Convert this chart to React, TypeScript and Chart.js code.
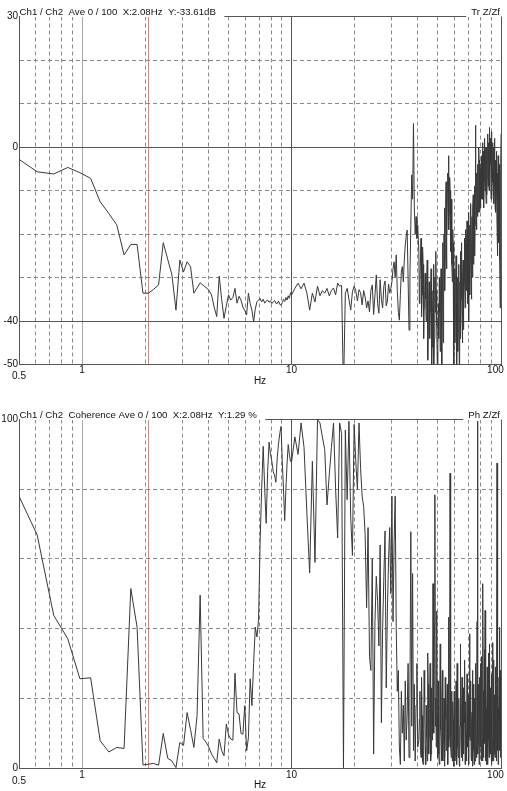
import { useEffect, useRef } from "react";
import { Chart, registerables } from "chart.js";

Chart.register(...registerables);

// ---------- data ----------
// FFT bin spacing (Hz) and segment layout (bin index of first value, bins per value)
const BIN_HZ = 0.12207;
const LOW_FIRST_BIN = 4;
const LOW_STEP = 1;
const MID_FIRST_BIN = 82;
const MID_STEP = 3;
const HIGH_A_FIRST_BIN = 332;
const HIGH_B_FIRST_BIN = 334;
const HIGH_STEP = 4;
const CURSOR_HZ = 2.075;

// Transfer function magnitude (dB)
const trLow = [
  -2.5, -5.7, -6.2, -4.7, -5.9, -7.2, -12.6, -15.3, -17.9, -24.8, -22.4, -22.4, -33.6, -33.6, -32.7, -31.7,
  -22.0, -25.8, -29.4, -37.5, -26.0, -28.7, -26.4, -27.5, -33.6, -32.4,
  -31.2, -31.8, -32.3, -32.9, -34.0, -36.8, -39.0, -29.7, -35.0, -39.4, -36.5, -34.0, -35.2, -34.6, -32.5,
  -35.9, -34.3, -35.2, -36.8, -37.6, -38.6, -33.6, -36.0, -37.5, -40.2, -37.2, -35.6, -35.2, -34.8, -35.6,
  -35.0, -35.9, -35.4, -35.2, -35.7, -35.4, -36.0, -35.6, -35.3, -35.9, -36.0, -35.4, -36.2, -36.3, -35.8,
  -35.0, -35.5, -34.6, -35.2, -34.2, -34.8, -33.5,
];
const trMid = [
  -34.0, -32.5, -31.3, -32.6, -31.3, -33.6, -37.5, -33.6, -35.6, -32.0, -34.2, -33.0, -33.6, -32.5, -34.2,
  -33.0, -32.4, -34.0, -31.3, -32.0, -31.8, -56.0, -33.6, -32.5, -35.0, -37.5, -33.3, -32.0, -33.0, -35.4,
  -32.8, -33.5, -36.3, -33.0, -34.5, -37.0, -35.4, -37.9, -33.0, -31.7, -38.5, -34.0, -29.4, -36.0, -38.2,
  -30.5, -35.0, -37.0, -32.0, -30.8, -36.5, -35.5, -31.5, -33.6, -32.5, -31.0, -28.0, -26.4, -30.0, -24.8,
  -33.0, -38.0, -39.8, -34.0, -28.5, -27.5, -31.0, -26.0, -22.5, -20.5, -19.1, -30.0, -42.1, -30.0, -18.0,
  -6.4, -12.0, 5.4, -14.0, -20.0, -16.0, -21.0, -18.0,
];
const trHighA = [
  -24, -31, -21, -34, -27, -37, -29, -40, -26, -43,
  -31, -38, -28, -46, -33, -50, -30, -24, -41, -55,
  -36, -30, -47, -28, -52, -22, -35, -14, -26, -8,
  -20, -6, -2, -15, -10, -24, -16, -31, -22, -52,
  -28, -38, -25, -56, -30, -42, -27, -48, -24, -35,
  -22, -45, -26, -33, -21, -37, -19, -30, -17, -28,
  -15, -40, -18, -26, -13, -35, -16, -24, -11, -20,
  -9, -18, 5, -14, -6, -16, -4, -12, -3, -15,
  -5, -11, -2, -9, 1, -12, -4, -8, 2, -10,
  -3, -13, 0, -7, 3, -9, 1, -6, 4.5, -4,
  2, -8, 3.5, -5, 1, -11, 0, -6, 2, -14,
  -3, -9, -1, -18, -6, -12, -4, -22, -8, -15,
  -37, -10, 3,
];
const trHighB = [
  -36, -26, -39, -23, -44, -33, -35, -31, -49, -35,
  -44, -33, -52, -38, -27, -44, -38, -33, -47, -40,
  -44, -38, -33, -41, -31, -45, -20, -33, -12, -28,
  -12, -9, -19, -7, -18, -12, -27, -19, -40, -33,
  -45, -31, -50, -36, -47, -33, -52, -31, -44, -28,
  -38, -30, -42, -27, -31, -25, -33, -22, -36, -20,
  -31, -27, -34, -20, -29, -22, -30, -14, -27, -15,
  -25, -8, -9, -19, -11, -7, -15, 0, -10, -8,
  -14, -4, -12, -3, -7, -1, -14, -3, -6, 0,
  -9, -5, -11, 2, -3, -5, -10, 0, -2, 1,
  -12, -2, -7, -3, -8, -5, -13, -2, -9, -6,
  -15, -4, -10, -8, -25, -2, -17, -11, -4, -26,
  -20, -5,
];

// Coherence (%)
const cohLow = [
  79.3, 66.9, 43.8, 37.1, 25.6, 25.9, 7.8, 4.6, 5.9, 5.6, 51.5, 40.4, 0.9, 1.1, 1.3, 0.8,
  9.9, 2.8, 2.0, 0.1, 7.3, 6.5, 15.9, 11.0, 5.9, 15.0,
  49.6, 8.5, 7.4, 6.0, 4.0, 2.8, 1.5, 8.3, 5.0, 3.5, 12.6, 9.5, 8.3, 8.0, 27.2, 15.9, 15.5, 9.9, 9.7,
  17.9, 4.9, 8.7, 25.6, 17.9, 30.0, 40.4, 37.6, 42.4, 65.0, 80.0, 92.3, 80.0, 70.2, 85.0, 93.5, 90.0,
  88.0, 85.0, 84.0, 82.0, 89.0, 93.0, 96.0, 98.0, 88.0, 80.0, 71.0, 80.0, 87.5, 92.8, 90.0, 88.0,
];
const cohMid = [
  88, 95, 90, 99, 92, 73, 56, 88, 59, 100, 99, 95, 91.4, 75.5, 84, 92, 99, 80, 66, 99, 96, 0.1,
  97, 77, 99.5, 72, 61, 98.6, 88, 80, 99, 86, 78, 75, 67, 46, 69, 32, 28, 60, 4, 42, 55, 48, 35,
  64, 13, 40, 55, 68, 23, 45, 60, 69, 50, 78, 42, 65, 78, 40, 22, 28, 6, 1, 22, 10, 18, 2, 25,
  8, 15, 30, 3, 20, 67.8, 12, 55.8, 5, 24, 2, 18, 30, 6,
];
const cohHighA = [
  8, 22, 3, 15, 1, 28, 6, 18, 2, 24,
  9, 30, 4, 16, 52.9, 10, 78.4, 20, 45, 3,
  14, 1, 35.6, 8, 19, 2, 12, 0.5, 26, 5,
  17, 1, 43.3, 9, 84.6, 6, 22, 2, 14, 0.5,
  18, 4, 25, 1, 11, 3, 20, 0.5, 35.6, 7,
  15, 2, 23, 5, 13, 1, 19, 3, 27, 6,
  12, 1, 38.5, 8, 21, 2, 16, 0.5, 24, 5,
  14, 2, 30, 7, 18, 99.5, 4, 20, 1, 26,
  6, 15, 2, 32, 9, 52.9, 3, 21, 7, 45.2,
  2, 17, 5, 29, 1, 19, 8, 24, 35.6, 4,
  16, 1, 27, 6, 20, 2, 31, 9, 15, 3,
  25, 7, 18, 87.5, 5, 22, 2, 14, 40.4, 6,
  28, 3, 19,
];
const cohHighB = [
  14, 5, 26, 2, 11, 19, 1, 9, 33, 4,
  17, 2, 23, 8, 30, 41, 12, 6, 15, 25,
  4, 18, 11, 2, 28, 7, 20, 3, 14, 9,
  24, 12, 6, 27, 15, 3, 10, 19, 5, 22,
  2, 13, 8, 30, 6, 17, 1, 12, 20, 3,
  26, 9, 4, 16, 31, 7, 10, 2, 14, 21,
  4, 18, 9, 25, 3, 13, 28, 6, 11, 1,
  20, 9, 15, 3, 42, 12, 7, 24, 3, 16,
  30, 5, 19, 11, 2, 22, 8, 34, 14, 4,
  26, 10, 1, 15, 8, 33, 3, 18, 12, 23,
  5, 20, 10, 2, 36, 14, 6, 21, 4, 29,
  11, 2, 24, 9, 31, 1, 17, 26, 5, 12,
  22, 8,
];

// Axes
const xGridHz = [0.5, 0.6, 0.7, 0.8, 0.9, 1, 2, 3, 4, 5, 6, 7, 8, 9, 10, 20, 30, 40, 50, 60, 70, 80, 90, 100];
const xSolidHz = [0.5, 10, 100];
const xLightHz = [1];
const trGridDb = [-50, -40, -30, -20, -10, 0, 10, 20, 30];
const trLabelDb = [30, 0, -40, -50];
const trSolidDb = [-50, -40, 0, 30];
const cohGridPct = [0, 20, 40, 60, 80, 100];
const cohLabelPct = [0, 100];
const cohSolidPct = [0, 100];

const trHeaderLeft = "Ch1 / Ch2  Ave 0 / 100  X:2.08Hz  Y:-33.61dB";
const trHeaderRight = "Tr Z/Zf";
const cohHeaderLeft = "Ch1 / Ch2  Coherence Ave 0 / 100  X:2.08Hz  Y:1.29 %";
const cohHeaderRight = "Ph Z/Zf";

// ---------- styling ----------
const FONT = '"Liberation Sans", Arial, Helvetica, sans-serif';
const TEXT_COLOR = "#111111";
const LINE_COLOR = "#383838";
const DARK_GRID = "#555555";
const LIGHT_GRID = "#a8a8a8";
const DASH_GRID = "#8a8a8a";
const CURSOR_COLOR = "rgba(222, 96, 76, 0.8)";
const DASH = [4, 3];
const HEADER_SIZE = 9.7;

type Seg = { first: number; step: number; values: number[] };

function toPoints(segs: Seg[]) {
  const pts: { x: number; y: number }[] = [];
  for (const s of segs) {
    s.values.forEach((v, i) => pts.push({ x: (s.first + i * s.step) * BIN_HZ, y: v }));
  }
  pts.sort((a, b) => a.x - b.x);
  return pts;
}

const overlayPlugin = {
  id: "overlay",
  beforeDatasetsDraw(chart: any, _args: any, opts: any) {
    const { ctx, chartArea } = chart;
    const x = Math.round(chart.scales.x.getPixelForValue(opts.cursorHz)) + 0.5;
    ctx.save();
    ctx.strokeStyle = CURSOR_COLOR;
    ctx.lineWidth = 1;
    ctx.beginPath();
    ctx.moveTo(x, chartArea.top);
    ctx.lineTo(x, chartArea.bottom);
    ctx.stroke();
    ctx.restore();
  },
  afterDraw(chart: any, _args: any, opts: any) {
    const { ctx, chartArea } = chart;
    const { left, right, top } = chartArea;
    ctx.save();
    ctx.font = `${HEADER_SIZE}px ${FONT}`;
    const wl = ctx.measureText(opts.left).width;
    const wr = ctx.measureText(opts.right).width;
    ctx.fillStyle = "#ffffff";
    ctx.fillRect(left + 1, 0, wl + 8, Math.ceil(top));
    ctx.fillRect(right - wr - 6, 0, wr + 6, Math.ceil(top));
    ctx.fillStyle = TEXT_COLOR;
    ctx.textBaseline = "alphabetic";
    ctx.textAlign = "left";
    ctx.fillText(opts.left, left + 0.5, top - 2);
    ctx.textAlign = "right";
    ctx.fillText(opts.right, right - 1, top - 2);
    ctx.restore();
  },
};

type Panel = {
  canvasH: number;
  plotTop: number;
  plotBottom: number;
  yMin: number;
  yMax: number;
  yGrid: number[];
  yLabels: number[];
  ySolid: number[];
  xLabelPad: number;
  x05LineHeight: number;
  titlePadBottom: number;
  headerLeft: string;
  headerRight: string;
  points: { x: number; y: number }[];
};

function zeroPadding(s: any) {
  s.paddingLeft = 0;
  s.paddingRight = 0;
  s.paddingTop = 0;
  s.paddingBottom = 0;
}

function buildConfig(p: Panel): any {
  return {
    type: "line",
    data: {
      datasets: [
        {
          data: p.points,
          borderColor: LINE_COLOR,
          borderWidth: 1,
          pointRadius: 0,
          tension: 0,
          fill: false,
          clip: 0,
        },
      ],
    },
    options: {
      animation: false,
      responsive: false,
      maintainAspectRatio: false,
      events: [],
      layout: { autoPadding: false, padding: { top: p.plotTop, right: 6, bottom: 0, left: 0 } },
      plugins: {
        legend: { display: false },
        tooltip: { enabled: false },
        title: { display: false },
        overlay: { left: p.headerLeft, right: p.headerRight, cursorHz: CURSOR_HZ },
      },
      scales: {
        x: {
          type: "logarithmic",
          min: 0.5,
          max: 100,
          afterBuildTicks: (s: any) => {
            s.ticks = xGridHz.map((v) => ({ value: v }));
          },
          afterFit: (s: any) => {
            s.height = p.canvasH - p.plotBottom;
            zeroPadding(s);
          },
          ticks: {
            autoSkip: false,
            maxRotation: 0,
            minRotation: 0,
            padding: p.xLabelPad,
            color: TEXT_COLOR,
            font: (ctx: any) => ({
              family: FONT,
              size: 10,
              lineHeight: ctx.tick && ctx.tick.value === 0.5 ? `${p.x05LineHeight}px` : "11px",
            }),
            callback: (value: number) => {
              if (value === 0.5) return ["", "0.5"];
              if (value === 1) return "1";
              if (value === 10) return "10";
              if (value === 100) return "100    ";
              return "";
            },
          },
          grid: {
            drawTicks: false,
            lineWidth: 1,
            color: (ctx: any) => {
              const v = ctx.tick ? ctx.tick.value : 0;
              if (xSolidHz.includes(v)) return DARK_GRID;
              if (xLightHz.includes(v)) return LIGHT_GRID;
              return DASH_GRID;
            },
          },
          border: {
            display: true,
            color: DARK_GRID,
            width: 1,
            dash: (ctx: any) => {
              if (!ctx.tick) return [];
              const v = ctx.tick.value;
              return xSolidHz.includes(v) || xLightHz.includes(v) ? [] : DASH;
            },
          },
          title: {
            display: true,
            text: "Hz",
            color: TEXT_COLOR,
            font: { family: FONT, size: 10, lineHeight: "12px" },
            padding: { top: 0, bottom: p.titlePadBottom },
          },
        },
        y: {
          type: "linear",
          min: p.yMin,
          max: p.yMax,
          afterBuildTicks: (s: any) => {
            s.ticks = p.yGrid.map((v) => ({ value: v }));
          },
          afterFit: (s: any) => {
            s.width = 19;
            zeroPadding(s);
          },
          ticks: {
            autoSkip: false,
            padding: 1,
            color: TEXT_COLOR,
            font: { family: FONT, size: 10, lineHeight: "11px" },
            callback: (value: number) => (p.yLabels.includes(value) ? String(value) : ""),
          },
          grid: {
            drawTicks: false,
            lineWidth: 1,
            color: (ctx: any) => {
              const v = ctx.tick ? ctx.tick.value : 0;
              return p.ySolid.includes(v) ? DARK_GRID : DASH_GRID;
            },
          },
          border: {
            display: true,
            color: DARK_GRID,
            width: 1,
            dash: (ctx: any) => {
              if (!ctx.tick) return [];
              return p.ySolid.includes(ctx.tick.value) ? [] : DASH;
            },
          },
        },
      },
    },
    plugins: [overlayPlugin],
  };
}

const TOP_H = 395;
const BOTTOM_H = 396;

const topPanel: Panel = {
  canvasH: TOP_H,
  plotTop: 16.5,
  plotBottom: 364.5,
  yMin: -50,
  yMax: 30,
  yGrid: trGridDb,
  yLabels: trLabelDb,
  ySolid: trSolidDb,
  xLabelPad: 0,
  x05LineHeight: 8,
  titlePadBottom: 8,
  headerLeft: trHeaderLeft,
  headerRight: trHeaderRight,
  points: toPoints([
    { first: LOW_FIRST_BIN, step: LOW_STEP, values: trLow },
    { first: MID_FIRST_BIN, step: MID_STEP, values: trMid },
    { first: HIGH_A_FIRST_BIN, step: HIGH_STEP, values: trHighA },
    { first: HIGH_B_FIRST_BIN, step: HIGH_STEP, values: trHighB },
  ]),
};

const bottomPanel: Panel = {
  canvasH: BOTTOM_H,
  plotTop: 24.5,
  plotBottom: 373,
  yMin: 0,
  yMax: 100,
  yGrid: cohGridPct,
  yLabels: cohLabelPct,
  ySolid: cohSolidPct,
  xLabelPad: 2,
  x05LineHeight: 7.3,
  titlePadBottom: 0,
  headerLeft: cohHeaderLeft,
  headerRight: cohHeaderRight,
  points: toPoints([
    { first: LOW_FIRST_BIN, step: LOW_STEP, values: cohLow },
    { first: MID_FIRST_BIN, step: MID_STEP, values: cohMid },
    { first: HIGH_A_FIRST_BIN, step: HIGH_STEP, values: cohHighA },
    { first: HIGH_B_FIRST_BIN, step: HIGH_STEP, values: cohHighB },
  ]),
};

export default function App() {
  const topRef = useRef<HTMLCanvasElement>(null);
  const bottomRef = useRef<HTMLCanvasElement>(null);

  useEffect(() => {
    const c1 = new Chart(topRef.current as HTMLCanvasElement, buildConfig(topPanel));
    const c2 = new Chart(bottomRef.current as HTMLCanvasElement, buildConfig(bottomPanel));
    return () => {
      c1.destroy();
      c2.destroy();
    };
  }, []);

  return (
    <div style={{ position: "absolute", left: 0, top: 0, width: 507, height: 791, background: "#ffffff" }}>
      <canvas ref={topRef} width={507} height={TOP_H} style={{ display: "block", width: 507, height: TOP_H }} />
      <canvas ref={bottomRef} width={507} height={BOTTOM_H} style={{ display: "block", width: 507, height: BOTTOM_H }} />
    </div>
  );
}
